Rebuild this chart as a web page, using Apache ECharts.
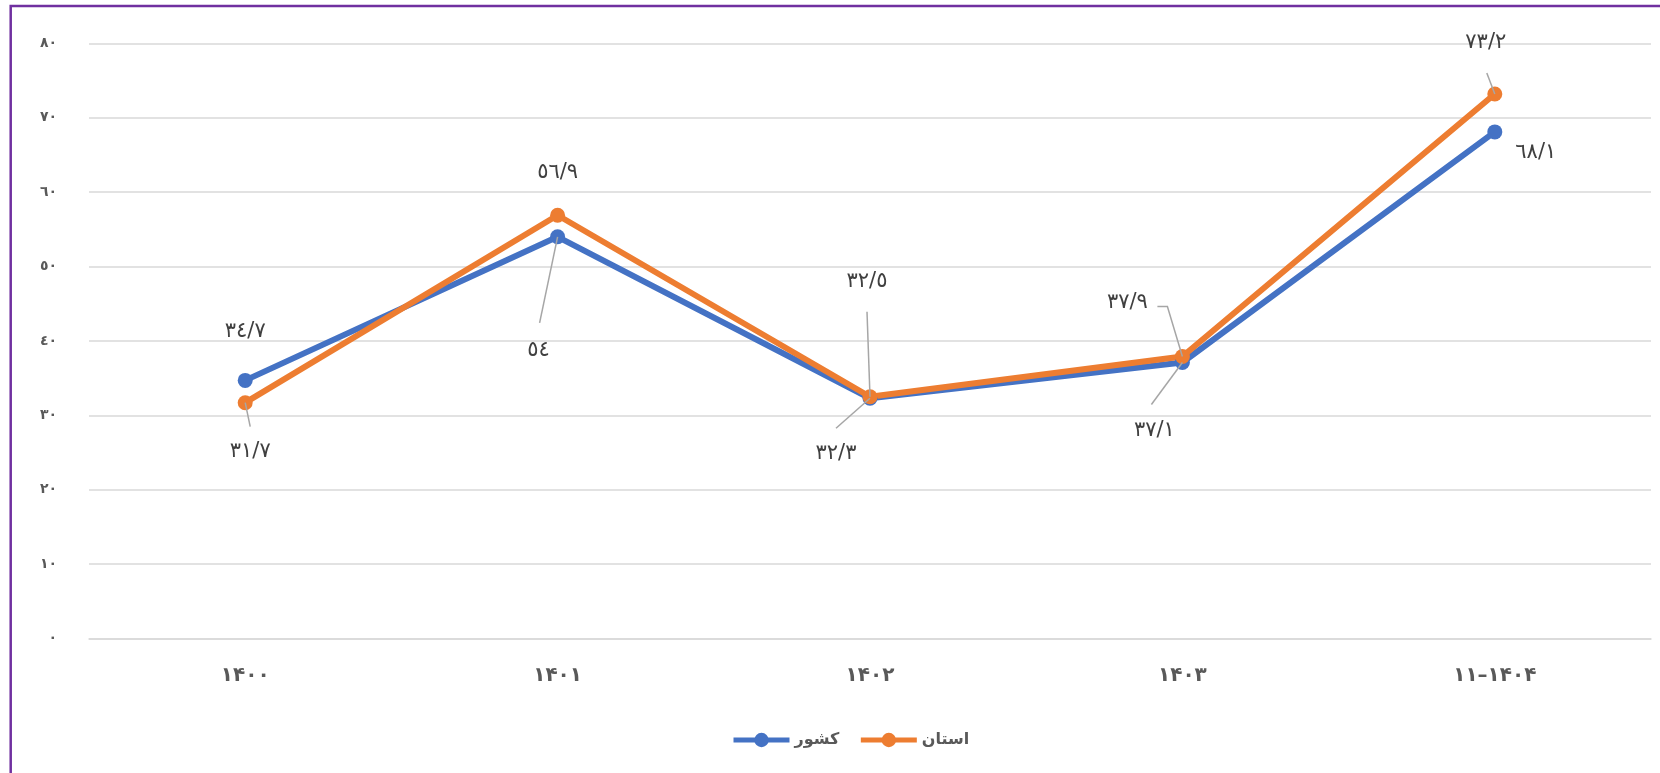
<!DOCTYPE html>
<html>
<head>
<meta charset="utf-8">
<script src="https://cdn.jsdelivr.net/npm/echarts@6/dist/echarts.min.js"></script>
<style>
html,body{margin:0;padding:0;background:#fff;}
#chart{width:1660px;height:773px;}
</style>
</head>
<body>
<div id="chart"></div>
<script>
// ---- data ----
const categories = ['۱۴۰۰', '۱۴۰۱', '۱۴۰۲', '۱۴۰۳', '۱۱–۱۴۰۴'];
const countryName = 'کشور';
const provinceName = 'استان';
const countryValues = [34.7, 54, 32.3, 37.1, 68.1];
const provinceValues = [31.7, 56.9, 32.5, 37.9, 73.2];
const yTickLabels = ['٠', '١٠', '٢٠', '٣٠', '٤٠', '٥٠', '٦٠', '٧٠', '٨٠'];

// ---- label placement (style only, pixel offsets from each point) ----
const countryLabelOffsets = [[0, -49], [-19, 114], [-34, 55], [-28, 68], [41, 21]];
const provinceLabelOffsets = [[5, 49], [0, -43], [-3, -115], [-55, -54], [-9, -51]];
// leader-line bends relative to the point (null = no leader)
const countryLeaders = [null, [[-18, 86]], [[-34, 30]], [[-31, 42]], null];
const provinceLeaders = [[[5, 24]], null, [[-3, -85]], [[-15, -50], [-25, -50]], [[-8, -21]]];

const arabicDigits = ['٠','١','٢','٣','٤','٥','٦','٧','٨','٩'];
function toArabic(v) {
  return String(v).replace(/\./g, '/').replace(/[0-9]/g, d => arabicDigits[+d]);
}

function buildData(values, offsets) {
  return values.map((v, i) => ({ value: v, label: { offset: offsets[i] } }));
}

const FONT = '"DejaVu Sans", "Noto Sans", sans-serif';
const BLUE = '#4472C4';
const ORANGE = '#ED7D31';

const chart = echarts.init(document.getElementById('chart'), null, { renderer: 'canvas' });

const borderGraphic = {
  id: 'border',
  type: 'rect',
  shape: { x: 10.7, y: 6, width: 3000, height: 3000 },
  style: { fill: 'none', stroke: '#7030A0', lineWidth: 2.5 },
  silent: true,
  z: 100
};

function makeSeries(name, color, values, offsets) {
  return {
    name: name,
    type: 'line',
    symbol: 'circle',
    symbolSize: 15,
    color: color,
    itemStyle: { color: color },
    lineStyle: { width: 6, color: color },
    label: {
      show: true,
      position: 'inside',
      fontFamily: FONT,
      fontSize: 21,
      color: '#404040',
      formatter: p => toArabic(p.value)
    },
    emphasis: { disabled: true },
    animation: false,
    data: buildData(values, offsets)
  };
}

chart.setOption({
  backgroundColor: '#ffffff',
  animation: false,
  textStyle: { fontFamily: FONT },
  graphic: [borderGraphic],
  grid: {
    left: 89,
    right: 9,
    top: 43.4,
    bottom: 134.5,
    containLabel: false,
    outerBoundsMode: 'none'
  },
  legend: {
    top: 732,
    left: 731,
    padding: 0,
    itemWidth: 56,
    itemHeight: 18,
    itemGap: 19,
    lineStyle: { width: 5 },
    textStyle: {
      fontFamily: FONT,
      fontSize: 16,
      fontWeight: 'bold',
      color: '#595959',
      padding: [4, 0, 0, 0]
    },
    data: [countryName, provinceName]
  },
  xAxis: {
    type: 'category',
    data: categories,
    boundaryGap: true,
    axisLine: { show: true, lineStyle: { color: '#D9D9D9', width: 1.5 } },
    axisTick: { show: false },
    axisLabel: {
      margin: 27,
      fontFamily: FONT,
      fontSize: 20,
      fontWeight: 'bold',
      color: '#595959'
    }
  },
  yAxis: {
    type: 'value',
    min: 0,
    max: 80,
    interval: 10,
    axisLine: { show: false },
    axisTick: { show: false },
    splitLine: { lineStyle: { color: '#D9D9D9', width: 1.5 } },
    axisLabel: {
      margin: 32,
      fontFamily: FONT,
      fontSize: 14,
      fontWeight: 'bold',
      color: '#595959',
      formatter: v => yTickLabels[Math.round(v / 10)]
    }
  },
  series: [
    makeSeries(countryName, BLUE, countryValues, countryLabelOffsets),
    makeSeries(provinceName, ORANGE, provinceValues, provinceLabelOffsets)
  ]
});

// leader lines, anchored on each point through the chart's own scales
const leaderGraphics = [borderGraphic];
[[countryValues, countryLeaders, 0], [provinceValues, provinceLeaders, 1]].forEach(([vals, leaders, si]) => {
  vals.forEach((v, i) => {
    if (!leaders[i]) return;
    const p = chart.convertToPixel({ seriesIndex: si }, [i, v]);
    const pts = [p].concat(leaders[i].map(o => [p[0] + o[0], p[1] + o[1]]));
    leaderGraphics.push({
      type: 'polyline',
      shape: { points: pts },
      style: { stroke: '#A6A6A6', lineWidth: 1.5, fill: null },
      silent: true,
      z: 50
    });
  });
});
chart.setOption({ graphic: leaderGraphics });
</script>
</body>
</html>
